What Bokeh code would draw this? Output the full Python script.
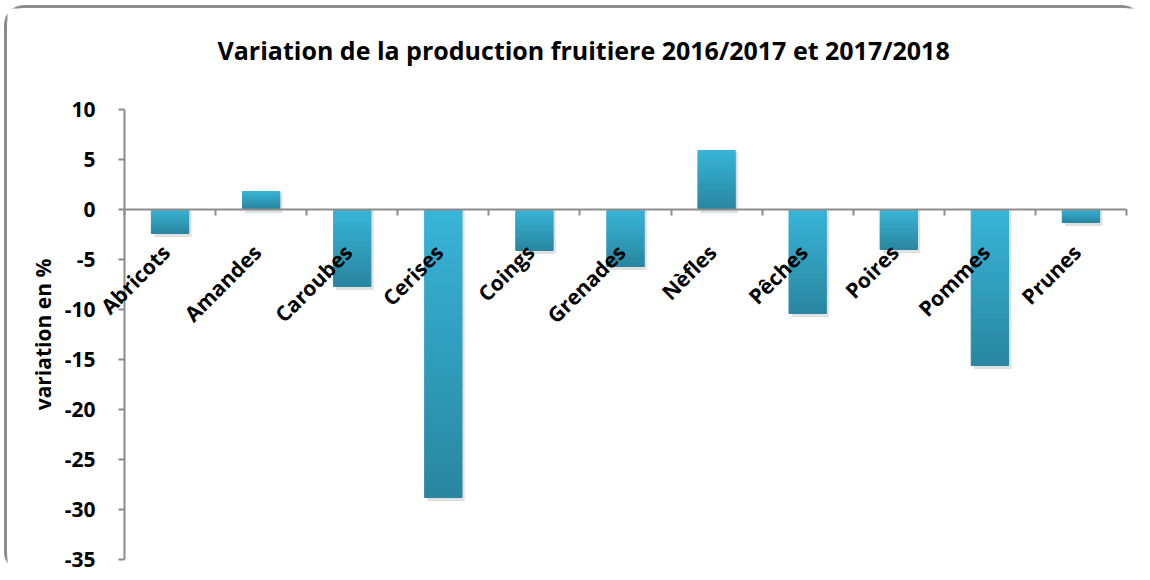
import math
from bokeh.plotting import figure
from bokeh.models import (Range1d, FixedTicker, LinearAxis, Spacer, LabelSet,
                          ColumnDataSource)
from bokeh.layouts import column, row
from bokeh.core.properties import value
from bokeh.embed import file_html
from bokeh.resources import INLINE

categories = ["Abricots", "Amandes", "Caroubes", "Cerises", "Coings", "Grenades",
              "Nèfles", "Pêches", "Poires", "Pommes", "Prunes"]
variation = [-2.4, 1.8, -7.7, -28.8, -4.1, -5.7, 5.9, -10.4, -4.0, -15.6, -1.3]
y_ticks = [10, 5, 0, -5, -10, -15, -20, -25, -30, -35]
title_text = "Variation de la production fruitiere 2016/2017 et 2017/2018"
y_label = "variation en %"

FONT = "Open Sans"
TOP_C = (56, 181, 216)
BOT_C = (41, 134, 160)

W, H = 1138, 567
# pixel layout of the plotting area inside the canvas
PX_LEFT, PX_RIGHT = 117, 1119     # category axis span
PX_TOP, PX_BOTTOM = 101, 551      # value axis span

xs = [i + 1 for i in range(len(categories))]
x_lo, x_hi = 0.5, len(categories) + 0.5
y_lo, y_hi = min(y_ticks), max(y_ticks)
ux = (PX_RIGHT - PX_LEFT) / (x_hi - x_lo)
uy = (PX_BOTTOM - PX_TOP) / (y_hi - y_lo)

p = figure(width=W, height=H, output_backend="svg", toolbar_location=None,
           x_range=Range1d(x_lo - PX_LEFT / ux, x_hi + (W - PX_RIGHT) / ux),
           y_range=Range1d(y_lo - (H - PX_BOTTOM) / uy, y_hi + PX_TOP / uy),
           min_border=0, x_axis_location=None, y_axis_location=None)
p.styles = {"border-top": "3px solid #8c8c8c",
            "border-left": "3px solid #8c8c8c", "border-top-left-radius": "20px",
            "border-top-right-radius": "20px", "border-bottom-left-radius": "20px"}

p.grid.visible = False
p.outline_line_color = None
p.background_fill_color = "white"
p.border_fill_color = "white"

# title
p.text(x=[x_lo], y=[y_hi], text=[title_text], x_offset=93, y_offset=-60,
       text_align="left", text_baseline="middle", text_font=value(FONT),
       text_font_size="25px", text_font_style="bold", text_color="black")

# y axis
ya = LinearAxis(fixed_location=x_lo, bounds=(y_lo, y_hi), ticker=FixedTicker(ticks=y_ticks))
ya.major_label_overrides = {t: str(t) for t in y_ticks}
ya.axis_line_color = "#8c8c8c"
ya.axis_line_width = 2
ya.major_tick_line_color = "#8c8c8c"
ya.major_tick_line_width = 2
ya.major_tick_in = 0
ya.major_tick_out = 6
ya.minor_tick_line_color = None
ya.major_label_text_font = FONT
ya.major_label_text_font_size = "21px"
ya.major_label_text_font_style = "bold"
ya.major_label_text_color = "black"
ya.major_label_standoff = 23
ya.axis_label = y_label
ya.axis_label_text_font = FONT
ya.axis_label_text_font_size = "21px"
ya.axis_label_text_font_style = "bold"
ya.axis_label_text_color = "black"
ya.axis_label_standoff = 5
p.add_layout(ya, "left")

# x axis at zero with ticks at category boundaries
xa = LinearAxis(fixed_location=0, bounds=(x_lo, x_hi),
                ticker=FixedTicker(ticks=[i + 0.5 for i in range(len(categories) + 1)]))
xa.axis_line_color = "#8c8c8c"
xa.axis_line_width = 2
xa.major_tick_line_color = "#8c8c8c"
xa.major_tick_line_width = 2
xa.major_tick_in = 0
xa.major_tick_out = 6
xa.minor_tick_line_color = None
xa.major_label_text_alpha = 0
xa.major_label_text_font_size = "1px"
p.add_layout(xa, "below")

BW = 0.41
# soft shadows
for x, v in zip(xs, variation):
    top_val = max(v, 0)
    bot_val = min(v, 0)
    p.vbar(x=[x + 0.03], top=[top_val - 0.1], bottom=[bot_val - 0.35], width=BW,
           fill_color="black", fill_alpha=0.12, line_color=None)

# gradient bars, built in slices along each bar
N = 24
for x, v in zip(xs, variation):
    top_val = max(v, 0)
    bot_val = min(v, 0)
    h = top_val - bot_val
    for k in range(N):
        f = (k + 0.5) / N
        c = tuple(int(round(TOP_C[j] + (BOT_C[j] - TOP_C[j]) * f)) for j in range(3))
        col = "#%02x%02x%02x" % c
        t = top_val - h * k / N
        b = top_val - h * (k + 1) / N
        p.vbar(x=[x], top=[t], bottom=[b], width=BW, fill_color=col, line_color=col,
               line_width=1)

# category labels rotated
src = ColumnDataSource(dict(x=xs, y=[0] * len(xs), name=categories))
p.add_layout(LabelSet(x="x", y="y", text="name", source=src, angle=math.pi / 4,
                      text_align="right", text_baseline="middle", x_offset=-4, y_offset=-39,
                      text_font=value(FONT), text_font_size="21px",
                      text_font_style=value("bold"), text_color=value("black")))

layout = column(Spacer(height=5), row(Spacer(width=4), p))
open("out.html", "w").write(file_html(layout, INLINE))
